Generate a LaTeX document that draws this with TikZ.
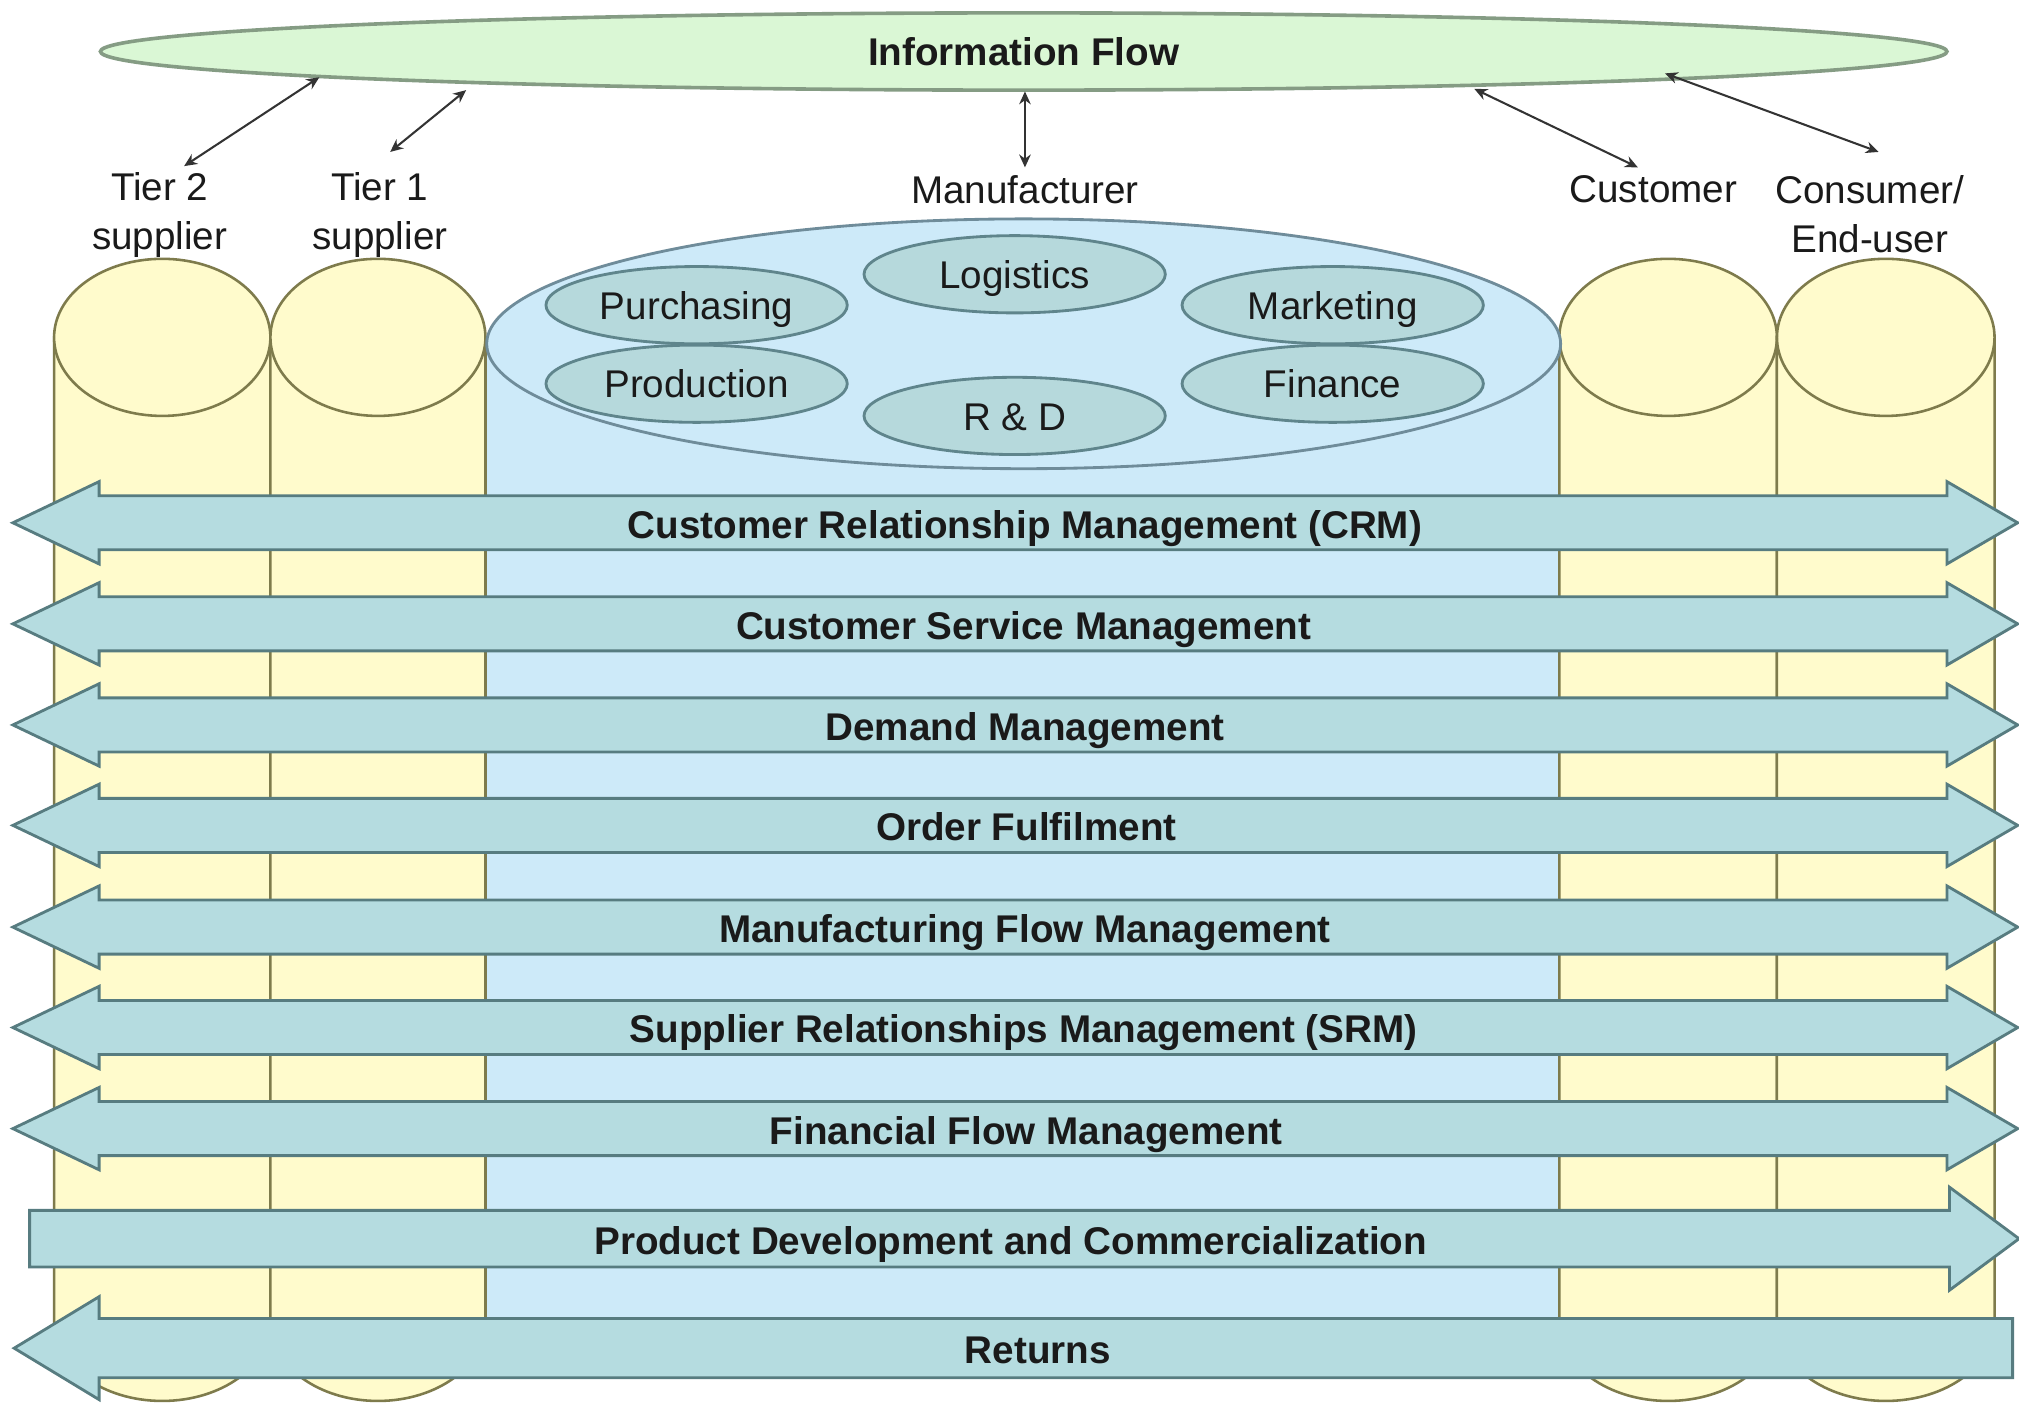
\documentclass[tikz,border=0pt]{standalone}
\usepackage{fontspec}
\setmainfont{Liberation Sans}
\usetikzlibrary{arrows.meta,shapes.geometric}
\definecolor{colyellow}{HTML}{FFFBCC}
\definecolor{colyelline}{HTML}{7E7B4C}
\definecolor{manblue}{HTML}{CDEAF9}
\definecolor{manline}{HTML}{6F8C9A}
\definecolor{innerfill}{HTML}{B6D9DC}
\definecolor{innerline}{HTML}{5F858C}
\definecolor{barfill}{HTML}{B5DCE0}
\definecolor{barline}{HTML}{577C80}
\definecolor{infofill}{HTML}{DAF7D5}
\definecolor{infoline}{HTML}{859C84}
\definecolor{txt}{HTML}{1A1A1A}
\begin{document}
\begin{tikzpicture}[x=0.5pt,y=-0.5pt,
  cyl/.style={fill=colyellow,draw=colyelline,line width=1pt},
  bar/.style={fill=barfill,draw=barline,line width=1.1pt},
  bartext/.style={text=txt,font=\fontsize{15}{19}\selectfont\bfseries,inner sep=0pt,text height=11pt,text depth=0pt},
  lbl/.style={text=txt,font=\fontsize{15}{19}\selectfont,align=center,inner sep=0pt},
  inner/.style={ellipse,fill=innerfill,draw=innerline,line width=1.1pt,inner sep=0pt,
    minimum width=117pt,minimum height=30pt,text=txt,font=\fontsize{15}{19}\selectfont,
    text height=11pt,text depth=0pt},
  link/.style={{Stealth[length=5pt,width=4.5pt]}-{Stealth[length=5pt,width=4.5pt]},line width=0.8pt,draw=black!80}
]
\useasboundingbox[fill=white] (0,0) rectangle (1568,1092);

% manufacturer column body
\path[fill=manblue] (377,267) rectangle (1211,1060);
\draw[colyelline,line width=1pt] (377,267) -- (377,1060) (1211,267) -- (1211,1060);

% yellow cylinders
\foreach \xa/\xb in {42/210, 210/377, 1211/1380, 1380/1549} {
  \pgfmathsetmacro{\rx}{(\xb-\xa)/2}
  \pgfmathsetmacro{\cx}{(\xb+\xa)/2}
  \path[cyl] (\xa,262) -- (\xa,1027) arc[start angle=180,end angle=0,x radius=\rx,y radius=61] -- (\xb,262) -- cycle;
  \path[cyl] (\cx,262) ellipse[x radius=\rx,y radius=61];
}

% manufacturer top ellipse
\node[ellipse,fill=manblue,draw=manline,line width=1.1pt,minimum width=417pt,minimum height=97pt,inner sep=0pt] (mfg) at (795,267) {};
\node[inner] (purch) at (541,237) {Purchasing};
\node[inner] (logis) at (788,213) {Logistics};
\node[inner] (market) at (1035,237) {Marketing};
\node[inner] (prod) at (541,298) {Production};
\node[inner] (rnd) at (788,323) {R \& D};
\node[inner] (fin) at (1035,298) {Finance};

% information flow
\node[ellipse,fill=infofill,draw=infoline,line width=1.4pt,minimum width=717pt,minimum height=30pt,inner sep=0pt,
  text=txt,font=\fontsize{15}{19}\selectfont\bfseries,text height=11pt,text depth=0pt] (info) at (795,40) {Information Flow};

% labels
\node[lbl] (tier2) at (124,167) {Tier 2\\supplier};
\node[lbl] (tier1) at (295,167) {Tier 1\\supplier};
\node[lbl] (manu) at (796,147) {Manufacturer};
\node[lbl] (cust) at (1284,147) {Customer};
\node[lbl] (cons) at (1452,166) {Consumer/\\End-user};

% links
\coordinate (i2) at (248,60);  \coordinate (t2) at (143,129);
\coordinate (i1) at (362,70);  \coordinate (t1) at (303,118);
\coordinate (im) at (796,71);  \coordinate (tm) at (796,130);
\coordinate (ic) at (1145,69); \coordinate (tc) at (1272,130);
\coordinate (ie) at (1293,57); \coordinate (te) at (1459,118);
\draw[link] (i2) -- (t2);
\draw[link] (i1) -- (t1);
\draw[link] (im) -- (tm);
\draw[link] (ic) -- (tc);
\draw[link] (ie) -- (te);

% double arrows
\foreach \c/\t/\tx in {406/Customer Relationship Management (CRM)/796,
                       484.5/Customer Service Management/795,
                       563/Demand Management/796,
                       641/Order Fulfilment/797,
                       720/Manufacturing Flow Management/796,
                       798/Supplier Relationships Management (SRM)/795,
                       876.5/Financial Flow Management/797} {
  \path[bar] (10,\c) -- (77,\c-32) -- (77,\c-21) -- (1512,\c-21) -- (1512,\c-32) -- (1567,\c)
     -- (1512,\c+32) -- (1512,\c+21) -- (77,\c+21) -- (77,\c+32) -- cycle;
  \node[bartext] at (\tx,\c+1) {\t};
}

% product development (right only)
\path[bar] (23,940) -- (1514,940) -- (1514,922) -- (1568,962) -- (1514,1002) -- (1514,984) -- (23,984) -- cycle;
\node[bartext] (pdc) at (785,963) {Product Development and Commercialization};

% returns (left only)
\path[bar] (11,1047) -- (77,1007) -- (77,1024) -- (1563,1024) -- (1563,1070) -- (77,1070) -- (77,1087) -- cycle;
\node[bartext] (ret) at (806,1048) {Returns};
\end{tikzpicture}
\end{document}
